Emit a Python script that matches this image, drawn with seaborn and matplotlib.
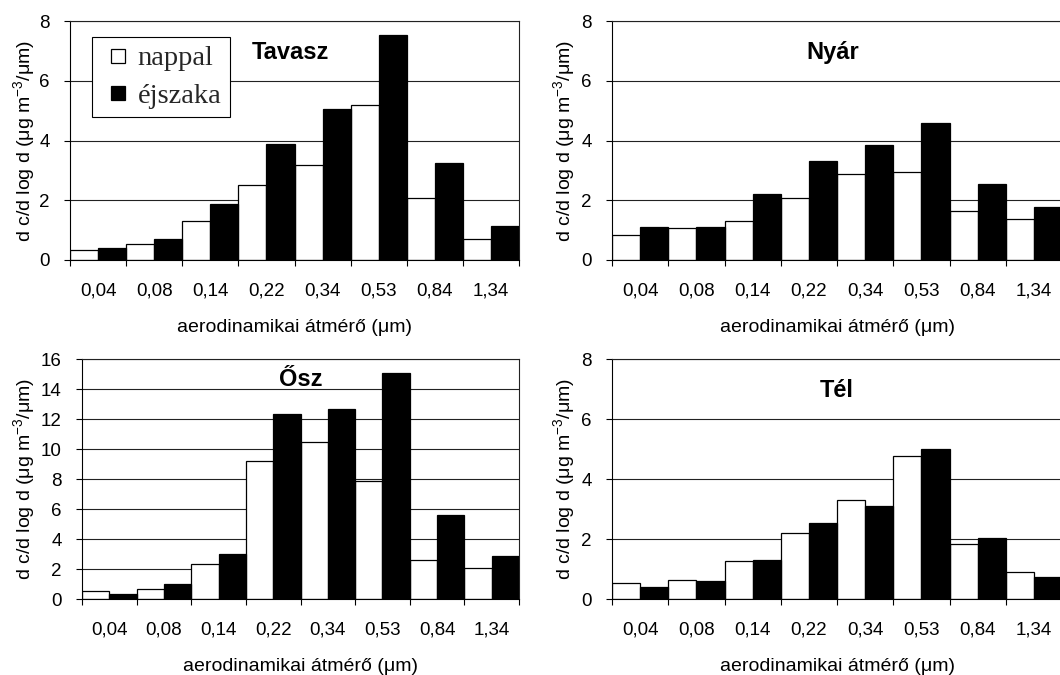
import numpy as np
import pandas as pd
import seaborn as sns
import matplotlib
matplotlib.use("Agg")
import matplotlib.pyplot as plt
from matplotlib.lines import Line2D
from matplotlib.ticker import FixedLocator, MultipleLocator

# ---------------- data ----------------
categories = ["0,04", "0,08", "0,14", "0,22", "0,34", "0,53", "0,84", "1,34"]
series_names = ["nappal", "éjszaka"]

tavasz_nappal = [0.33, 0.55, 1.30, 2.50, 3.19, 5.19, 2.08, 0.70]
tavasz_ejszaka = [0.40, 0.71, 1.88, 3.89, 5.05, 7.54, 3.24, 1.14]

nyar_nappal = [0.83, 1.08, 1.31, 2.09, 2.89, 2.94, 1.63, 1.36]
nyar_ejszaka = [1.11, 1.11, 2.22, 3.32, 3.85, 4.58, 2.54, 1.79]

osz_nappal = [0.55, 0.67, 2.31, 9.23, 10.45, 7.86, 2.62, 2.09]
osz_ejszaka = [0.36, 0.98, 2.97, 12.36, 12.67, 15.07, 5.57, 2.86]

tel_nappal = [0.52, 0.64, 1.27, 2.21, 3.30, 4.76, 1.84, 0.91]
tel_ejszaka = [0.39, 0.60, 1.29, 2.54, 3.10, 4.99, 2.05, 0.75]

panel_titles = ["Tavasz", "Nyár", "Ősz", "Tél"]
panel_data = [
    (tavasz_nappal, tavasz_ejszaka),
    (nyar_nappal, nyar_ejszaka),
    (osz_nappal, osz_ejszaka),
    (tel_nappal, tel_ejszaka),
]
panel_ymax = [8, 8, 16, 8]

xlabel = "aerodinamikai átmérő (μm)"
ylabel = "d c/d log d (μg m$^{-3}$/μm)"

# ---------------- style ----------------
sns.set_theme(style="white")
plt.rcParams["font.family"] = ["Liberation Sans", "DejaVu Sans"]
plt.rcParams["mathtext.fontset"] = "custom"
plt.rcParams["mathtext.rm"] = "Liberation Sans"
plt.rcParams["mathtext.it"] = "Liberation Sans"
plt.rcParams["mathtext.default"] = "regular"

W, H = 1060, 675
fig = plt.figure(figsize=(W / 100, H / 100), dpi=100)

# axes boxes in pixel coords: left, right, top, bottom
boxes = [
    (70, 519, 21, 260),
    (612, 1062, 21, 260),
    (82, 519, 359, 599),
    (612, 1062, 359, 599),
]
title_pos = [(0.49, 0.87), (0.49, 0.87), (0.50, 0.915), (0.50, 0.87)]
ylab_x_px = [37, 577, 37, 577]

palette = {"nappal": "white", "éjszaka": "black"}

for i, (title, (nap, ejs), ymax, box) in enumerate(zip(panel_titles, panel_data, panel_ymax, boxes)):
    l, r, t, b = box
    ax = fig.add_axes([l / W, 1 - b / H, (r - l) / W, (b - t) / H])
    df = pd.DataFrame({
        "kat": categories * 2,
        "sorozat": [series_names[0]] * len(categories) + [series_names[1]] * len(categories),
        "ertek": list(nap) + list(ejs),
    })
    sns.barplot(data=df, x="kat", y="ertek", hue="sorozat", order=categories,
                hue_order=series_names, palette=palette, width=1.0, gap=0,
                edgecolor="black", linewidth=0.9, errorbar=None, ax=ax,
                legend=False, saturation=1)
    ax.set_xlim(-0.5, len(categories) - 0.5)
    ax.set_ylim(0, ymax)
    ax.set_axisbelow(True)
    ax.yaxis.set_major_locator(MultipleLocator(2))
    ax.grid(axis="y", color="#222222", linewidth=0.8)
    ax.grid(axis="x", visible=False)
    for s in ax.spines.values():
        s.set_color("#222222")
        s.set_linewidth(0.8)
    ax.spines["left"].set_color("black")
    ax.spines["bottom"].set_color("black")

    ax.xaxis.set_minor_locator(FixedLocator(np.arange(-0.5, len(categories), 1.0)))
    ax.tick_params(axis="x", which="major", length=0, pad=16, labelsize=13.5, colors="black")
    ax.tick_params(axis="x", which="minor", length=4.5, width=0.8, direction="out",
                   bottom=True, color="black")
    ax.tick_params(axis="y", which="major", length=4.5, width=0.8, direction="out",
                   left=True, pad=10, labelsize=13.5, colors="black")
    ax.set_yticks(np.arange(0, ymax + 0.1, 2))
    ax.set_yticklabels([f"{v:g}" for v in np.arange(0, ymax + 0.1, 2)])

    ax.set_xlabel(xlabel, fontsize=14, labelpad=14, color="black")
    ax.set_ylabel(ylabel, fontsize=14, color="black")
    ax.yaxis.set_label_coords((ylab_x_px[i] - l) / (r - l), 0.5)

    tx, ty = title_pos[i]
    ax.text(tx, ty, title, transform=ax.transAxes, ha="center", va="center",
            fontsize=17, fontweight="bold", color="black")

    if i == 0:
        handles = [Line2D([], [], linestyle="none", marker="s", markersize=10.5,
                          markerfacecolor=palette[n], markeredgecolor="black",
                          markeredgewidth=0.9, label=n)
                   for n in series_names]
        leg = ax.legend(handles=handles, loc="upper left", bbox_to_anchor=(22 / 449, 1 - 16 / 239),
                        frameon=True, fancybox=False, framealpha=1, edgecolor="black",
                        prop={"family": "Liberation Serif", "size": 20.5},
                        handlelength=1.2, handletextpad=0.1,
                        labelspacing=0.4, borderpad=0.3, borderaxespad=0)
        leg.get_frame().set_linewidth(0.8)

fig.savefig("out.png", dpi=100)
